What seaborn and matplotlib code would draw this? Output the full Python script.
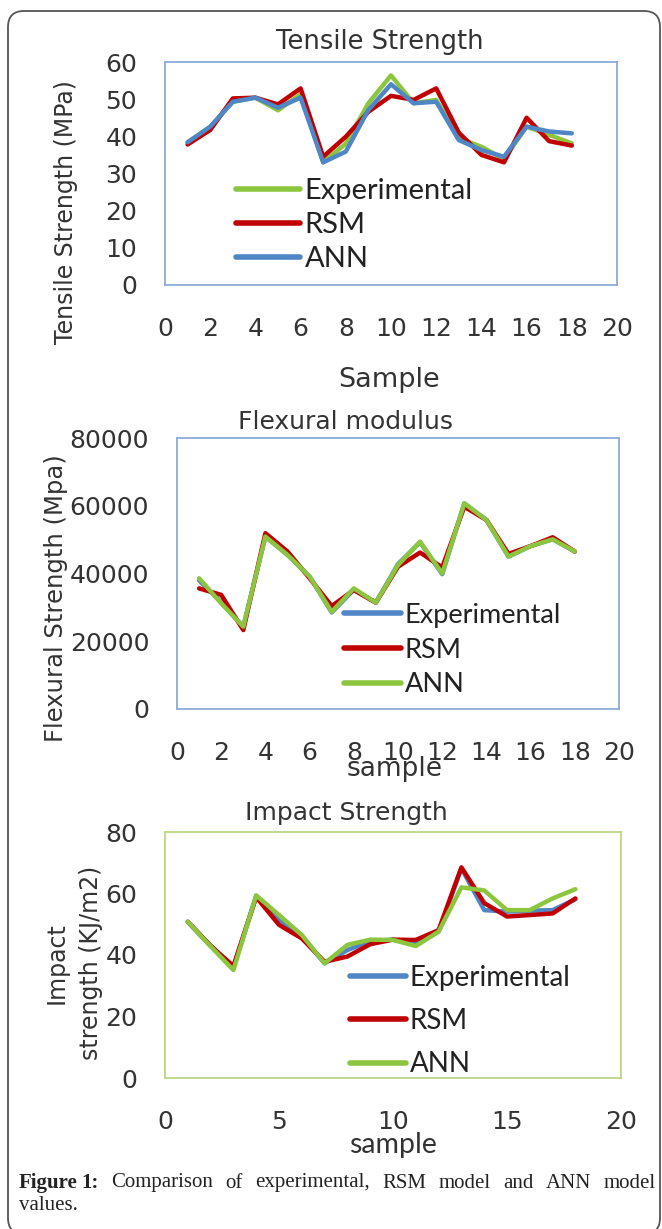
import numpy as np
import pandas as pd
import seaborn as sns
import matplotlib.pyplot as plt
from matplotlib.patches import FancyBboxPatch

sns.set_style('white')
plt.rcParams['font.family'] = ['DejaVu Sans']

# data
samples = list(range(1, 19))

tensile_exp = [38.3, 42.5, 49.3, 50.4, 47.0, 51.3, 33.0, 38.0, 48.9, 56.4, 48.9, 49.8, 39.5, 37.2, 33.9, 42.6, 40.4, 38.1]
tensile_rsm = [37.8, 41.7, 50.2, 50.4, 48.6, 52.9, 34.5, 39.9, 46.6, 50.9, 49.8, 52.9, 41.0, 35.0, 33.0, 45.0, 38.7, 37.5]
tensile_ann = [38.4, 42.6, 49.3, 50.4, 47.7, 50.4, 33.0, 35.9, 47.1, 54.0, 48.9, 49.3, 39.0, 36.3, 34.5, 42.6, 41.3, 40.8]

flex_exp = [38000, 31500, 24300, 50900, 45500, 39100, 28500, 35200, 31400, 42800, 49200, 39800, 60700, 55800, 45000, 48100, 50100, 46500]
flex_rsm = [35600, 33700, 23300, 51900, 46500, 38600, 30400, 35100, 31400, 42000, 46200, 41800, 59700, 55800, 45800, 48100, 50700, 46500]
flex_ann = [38600, 31200, 24300, 50900, 45500, 39100, 28700, 35600, 31400, 42500, 49400, 40000, 60700, 55800, 45000, 48100, 50100, 46500]

impact_exp = [50.8, 43.0, 36.0, 59.2, 51.4, 46.0, 37.3, 41.6, 44.5, 45.0, 43.8, 47.6, 68.2, 54.6, 54.1, 54.4, 54.6, 58.1]
impact_rsm = [50.8, 43.0, 36.4, 58.8, 49.8, 45.4, 37.8, 39.5, 43.5, 45.0, 44.9, 48.1, 68.5, 56.9, 52.5, 53.0, 53.5, 58.4]
impact_ann = [50.8, 42.8, 35.1, 59.4, 53.0, 46.5, 37.3, 43.3, 45.0, 44.9, 42.9, 47.6, 62.0, 61.0, 54.6, 54.6, 58.4, 61.4]

labels = ['Experimental', 'RSM', 'ANN']

GREEN = '#8cc63f'
RED = '#c00000'
BLUE = '#4f86c6'
TXT = '#333333'

W, H = 662, 1229
fig = plt.figure(figsize=(W / 100, H / 100), dpi=100)


def px_rect(l, t, r, b):
    return [l / W, 1 - b / H, (r - l) / W, (b - t) / H]


def fx(x):
    return x / W


def fy(y):
    return 1 - y / H


def draw_panel(rect, series, palette, yticks, xticks, edge, leg_xy, leg_size, leg_space, hlen):
    ax = fig.add_axes(px_rect(*rect))
    df = pd.DataFrame({
        'Sample': samples * 3,
        'value': series[0] + series[1] + series[2],
        'model': [m for m in labels for _ in samples],
    })
    sns.lineplot(data=df, x='Sample', y='value', hue='model', hue_order=labels,
                 palette=palette, linewidth=3.2, ax=ax, legend=True)
    for ln in ax.lines:
        ln.set_solid_joinstyle('round')
        ln.set_solid_capstyle('round')
    ax.set_xlim(0, 20)
    ax.set_ylim(yticks[0], yticks[-1])
    ax.set_xticks(xticks)
    ax.set_yticks(yticks)
    ax.set_xlabel('')
    ax.set_ylabel('')
    ax.tick_params(axis='both', length=0, labelsize=18, labelcolor=TXT)
    ax.tick_params(axis='y', pad=20)
    ax.tick_params(axis='x', pad=23)
    for s in ax.spines.values():
        s.set_color(edge)
        s.set_linewidth(1.3)
    handles, labs = ax.get_legend_handles_labels()
    leg = ax.legend(handles, labs, loc='center left',
                    bbox_to_anchor=(fx(leg_xy[0]), fy(leg_xy[1])),
                    bbox_transform=fig.transFigure, frameon=False,
                    prop={'family': 'Lato', 'size': leg_size}, handlelength=hlen,
                    handletextpad=0.15, labelspacing=leg_space, borderpad=0,
                    borderaxespad=0)
    for h in leg.get_lines():
        h.set_linewidth(4)
    for t in leg.get_texts():
        t.set_color('#222222')
    return ax


# panel 1
draw_panel((165, 62, 617, 285), [tensile_exp, tensile_rsm, tensile_ann],
           {'Experimental': GREEN, 'RSM': RED, 'ANN': BLUE},
           [0, 10, 20, 30, 40, 50, 60], list(range(0, 21, 2)), '#8eaadb',
           (236, 225), 21, 0.28, 2.2)
fig.text(fx(380), fy(42), 'Tensile Strength', ha='center', va='center', fontsize=18.5, color=TXT)
fig.text(fx(66), fy(212), 'Tensile Strength (MPa)', rotation=90, ha='center', va='center', fontsize=17, color=TXT)
fig.text(fx(389), fy(380), 'Sample', ha='center', va='center', fontsize=19.5, color=TXT)

# panel 2
draw_panel((177, 438, 619, 709), [flex_exp, flex_rsm, flex_ann],
           {'Experimental': BLUE, 'RSM': RED, 'ANN': GREEN},
           [0, 20000, 40000, 60000, 80000], list(range(0, 21, 2)), '#8eaadb',
           (344, 650), 19.5, 0.36, 2.1)
fig.text(fx(346), fy(422), 'Flexural modulus', ha='center', va='center', fontsize=18, color=TXT)
fig.text(fx(56), fy(598), 'Flexural Strength (Mpa)', rotation=90, ha='center', va='center', fontsize=17.5, color=TXT)
fig.text(fx(395), fy(769), 'sample', ha='center', va='center', fontsize=19, color=TXT)

# panel 3
draw_panel((165, 832, 621, 1078), [impact_exp, impact_rsm, impact_ann],
           {'Experimental': BLUE, 'RSM': RED, 'ANN': GREEN},
           [0, 20, 40, 60, 80], [0, 5, 10, 15, 20], '#bcd785',
           (350, 1021), 20, 0.62, 2.0)
fig.text(fx(346), fy(813), 'Impact Strength', ha='center', va='center', fontsize=18, color=TXT)
fig.text(fx(74), fy(963), 'Impact\nstrength (KJ/m2)', rotation=90, ha='center', va='center',
         fontsize=17, linespacing=1.55, multialignment='center', color=TXT)
fig.text(fx(393), fy(1145), 'sample', ha='center', va='center', fontsize=20.5, color=TXT, family='Lato')

# caption, first line justified between the frame margins
words = ['Figure', '1:', 'Comparison', 'of', 'experimental,', 'RSM', 'model', 'and', 'ANN', 'model']
cap_kw = dict(fontsize=15, family='Liberation Serif', color='#222222', va='center', ha='left')
texts = [fig.text(0, fy(1183), w, fontweight='bold' if i < 2 else 'normal', **cap_kw)
         for i, w in enumerate(words)]
renderer = fig.canvas.get_renderer()
widths = [t.get_window_extent(renderer).width for t in texts]
left, right = 19, 656
gap = (right - left - sum(widths) - 4) / (len(words) - 2)
xpos = left
for i, (t, wd) in enumerate(zip(texts, widths)):
    t.set_x(fx(xpos))
    xpos += wd + (4 if i == 0 else gap)  # "Figure 1:" kept together
fig.text(fx(19), fy(1206), 'values.', **cap_kw)

# outer rounded frame
frame = FancyBboxPatch((8 / 100, (H - 1234) / 100), 652 / 100, (1234 - 11) / 100,
                       boxstyle='round,pad=0,rounding_size=0.16',
                       transform=fig.dpi_scale_trans, fill=False,
                       edgecolor='#555555', linewidth=1.3, clip_on=False)
fig.patches.append(frame)

fig.savefig('out.png', dpi=100)
